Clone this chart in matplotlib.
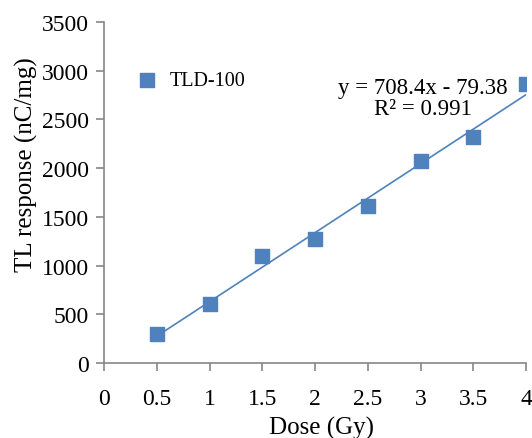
import numpy as np
import matplotlib.pyplot as plt

plt.rcParams['font.family'] = ['Liberation Serif', 'DejaVu Serif']

dose = [0.5, 1.0, 1.5, 2.0, 2.5, 3.0, 3.5, 4.0]
response = [300, 601, 1094, 1276, 1610, 2070, 2320, 2860]
slope, intercept = 708.4, -79.38
r2 = 0.991

blue = '#4F81BD'
grey = '#868686'

fig = plt.figure(figsize=(5.32, 4.39), dpi=100)
ax = fig.add_axes([104 / 532, 1 - 364 / 439, (526 - 104) / 532, (364 - 23) / 439])

ax.scatter(dose, response, marker='s', s=110, color=blue, zorder=3, label='TLD-100')
fit_x = np.array([dose[0], dose[-1]])
ax.plot(fit_x, slope * fit_x + intercept, color=blue, linewidth=1.2, zorder=2)

ax.set_xlim(0, 4)
ax.set_ylim(0, 3500)
ax.set_xticks(np.arange(0, 4.01, 0.5))
ax.set_xticklabels(['0', '0.5', '1', '1.5', '2', '2.5', '3', '3.5', '4'])
ax.set_yticks(np.arange(0, 3501, 500))

for side in ('top', 'right'):
    ax.spines[side].set_visible(False)
for side in ('left', 'bottom'):
    ax.spines[side].set_color(grey)
    ax.spines[side].set_linewidth(1.2)
ax.tick_params(colors=grey, labelcolor='black', labelsize=17, length=6, width=1.2)
ax.tick_params(axis='x', pad=12)
ax.tick_params(axis='y', pad=5)

ax.set_xlabel('Dose (Gy)', fontsize=18)
ax.xaxis.set_label_coords(0.515, -0.155)
ax.set_ylabel('TL response (nC/mg)', fontsize=18)
ax.yaxis.set_label_coords(-0.157, 0.585)

ax.legend(loc='center left', bbox_to_anchor=(0.055, 0.828), frameon=False,
          fontsize=14.5, handletextpad=0.1, borderaxespad=0, borderpad=0)

ax.text(0.755, 0.777, f'y = {slope}x - {abs(intercept)}\nR² = {r2}',
        transform=ax.transAxes, ha='center', va='center', fontsize=16.5,
        linespacing=1.05)

fig.savefig('out.png', dpi=100)
